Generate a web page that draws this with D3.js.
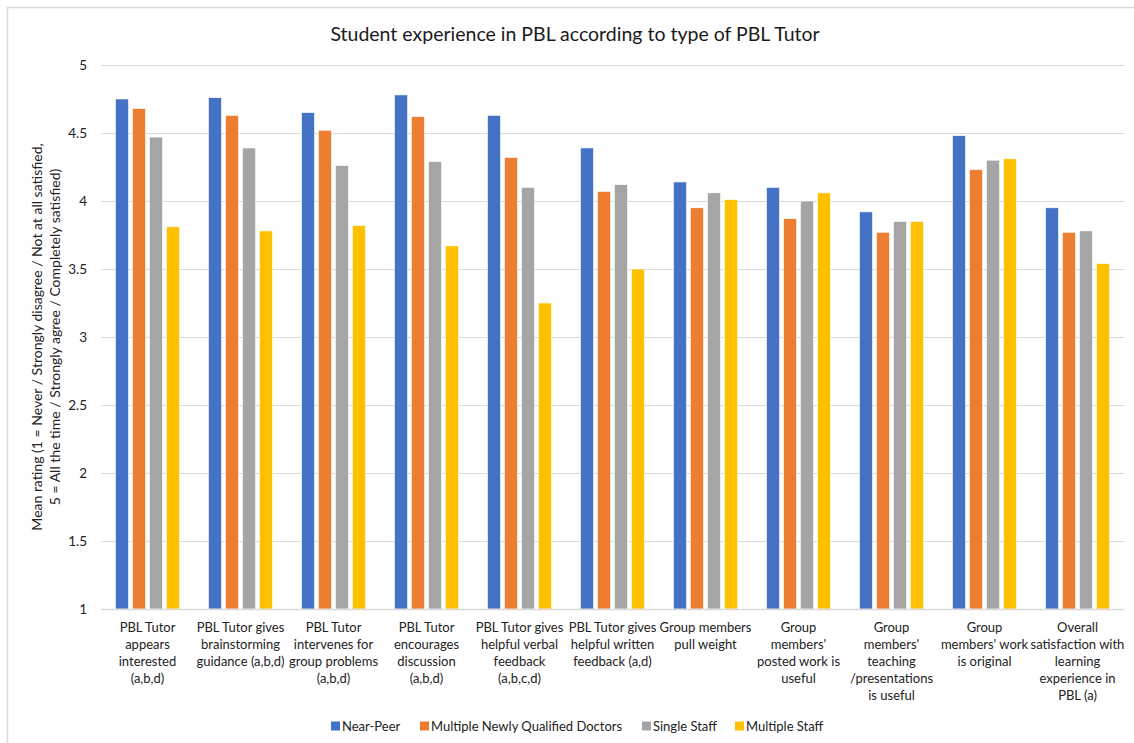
<!DOCTYPE html>
<html>
<head>
<meta charset="utf-8">
<script src="https://cdn.jsdelivr.net/npm/d3@7"></script>
<style>
  body { margin: 0; background: #fff; }
  svg { display: block; font-family: Lato, "Open Sans", sans-serif; }
</style>
</head>
<body>
<div id="chart"></div>
<script>
const categories = [
  ['PBL Tutor', 'appears', 'interested', '(a,b,d)'],
  ['PBL Tutor gives', 'brainstorming', 'guidance (a,b,d)'],
  ['PBL Tutor', 'intervenes for', 'group problems', '(a,b,d)'],
  ['PBL Tutor', 'encourages', 'discussion', '(a,b,d)'],
  ['PBL Tutor gives', 'helpful verbal', 'feedback', '(a,b,c,d)'],
  ['PBL Tutor gives', 'helpful written', 'feedback (a,d)'],
  ['Group members', 'pull weight'],
  ['Group', "members'", 'posted work is', 'useful'],
  ['Group', "members'", 'teaching', '/presentations', 'is useful'],
  ['Group', "members' work", 'is original'],
  ['Overall', 'satisfaction with', 'learning', 'experience in', 'PBL (a)']
]
const seriesNames = ['Near-Peer', 'Multiple Newly Qualified Doctors', 'Single Staff', 'Multiple Staff']
const nearPeer   = [4.75, 4.76, 4.65, 4.78, 4.63, 4.39, 4.14, 4.10, 3.92, 4.48, 3.95]
const multiNQD   = [4.68, 4.63, 4.52, 4.62, 4.32, 4.07, 3.95, 3.87, 3.77, 4.23, 3.77]
const singleStaff = [4.47, 4.39, 4.26, 4.29, 4.10, 4.12, 4.06, 4.00, 3.85, 4.30, 3.78]
const multiStaff = [3.81, 3.78, 3.82, 3.67, 3.25, 3.50, 4.01, 4.06, 3.85, 4.31, 3.54]
const yTicks = [1, 1.5, 2, 2.5, 3, 3.5, 4, 4.5, 5]
const colors = ['#4472C4', '#ED7D31', '#A5A5A5', '#FFC000']

const series = [nearPeer, multiNQD, singleStaff, multiStaff]
const W = 1134, H = 743
const margin = { top: 65, right: 10, bottom: 134, left: 101 }
const w = 1124 - margin.left
const h = H - margin.top - margin.bottom

const svg = d3.select('#chart').append('svg').attr('width', W).attr('height', H)

// chart border
svg.append('rect')
  .attr('x', 7.5).attr('y', 7.5).attr('width', W + 20).attr('height', H + 20)
  .attr('fill', 'none').attr('stroke', '#D9D9D9').attr('stroke-width', 1.5)

svg.append('text')
  .attr('x', 575).attr('y', 41).attr('text-anchor', 'middle')
  .attr('font-size', 19.5).attr('fill', '#1a1a1a')
  .text('Student experience in PBL according to type of PBL Tutor')

const g = svg.append('g').attr('transform', `translate(${margin.left},${margin.top})`)

const x0 = d3.scaleBand().domain(d3.range(categories.length)).range([0, w])
  .paddingInner(0.312).paddingOuter(0.156)
const x1 = d3.scaleBand().domain(d3.range(series.length)).range([0, x0.bandwidth()])
  .paddingInner(0.235)
const y = d3.scaleLinear().domain([1, 5]).range([h, 0])

// gridlines + y ticks
const yAxis = g.append('g').call(d3.axisLeft(y).tickValues(yTicks).tickSize(-w).tickFormat(d3.format('')))
yAxis.select('.domain').remove()
yAxis.selectAll('.tick line').attr('stroke', '#D9D9D9').attr('stroke-width', 1.2)
yAxis.selectAll('.tick text').attr('x', -14).attr('font-size', 13.5).attr('fill', '#222')
  .style('font-family', 'Lato, sans-serif')

// bars
const groups = g.selectAll('.grp').data(categories).join('g')
  .attr('class', 'grp')
  .attr('transform', (d, i) => `translate(${x0(i)},0)`)

groups.selectAll('rect')
  .data((d, i) => series.map((s, k) => ({ k, v: s[i] })))
  .join('rect')
  .attr('x', d => x1(d.k))
  .attr('width', x1.bandwidth())
  .attr('y', d => y(d.v))
  .attr('height', d => y(1) - y(d.v))
  .attr('fill', d => colors[d.k])
  .attr('stroke', '#fff').attr('stroke-width', 0.6)

// x axis
const xAxis = g.append('g').attr('transform', `translate(0,${h})`)
  .call(d3.axisBottom(x0).tickSize(0).tickFormat(''))
xAxis.select('.domain').attr('stroke', '#D9D9D9').attr('stroke-width', 1.5)
xAxis.selectAll('.tick').each(function(d) {
  const t = d3.select(this).append('text')
    .attr('text-anchor', 'middle').attr('font-size', 13).attr('fill', '#222')
    .style('font-family', 'Lato, sans-serif')
  categories[d].forEach((line, j) => {
    t.append('tspan').attr('x', 0).attr('y', 23 + j * 17).text(line)
  })
})

// y axis title
svg.append('text')
  .attr('transform', `translate(42,${margin.top + h / 2}) rotate(-90)`)
  .attr('text-anchor', 'middle').attr('font-size', 14).attr('fill', '#222')
  .selectAll('tspan')
  .data(['Mean rating (1 = Never / Strongly disagree / Not at all satisfied,', '5 = All the time / Strongly agree / Completely satisfied)'])
  .join('tspan')
  .attr('x', 0).attr('dy', (d, i) => i === 0 ? 0 : 18)
  .text(d => d)

// legend
const legendX = [331, 420, 642, 735]
const legend = svg.append('g').selectAll('g').data(seriesNames).join('g')
  .attr('transform', (d, i) => `translate(${legendX[i]},726)`)
legend.append('rect').attr('x', 0).attr('y', -4.5).attr('width', 9).attr('height', 9)
  .attr('fill', (d, i) => colors[i])
legend.append('text').attr('x', 11).attr('y', 4.5).attr('font-size', 13).attr('fill', '#222')
  .text(d => d)
</script>
</body>
</html>
